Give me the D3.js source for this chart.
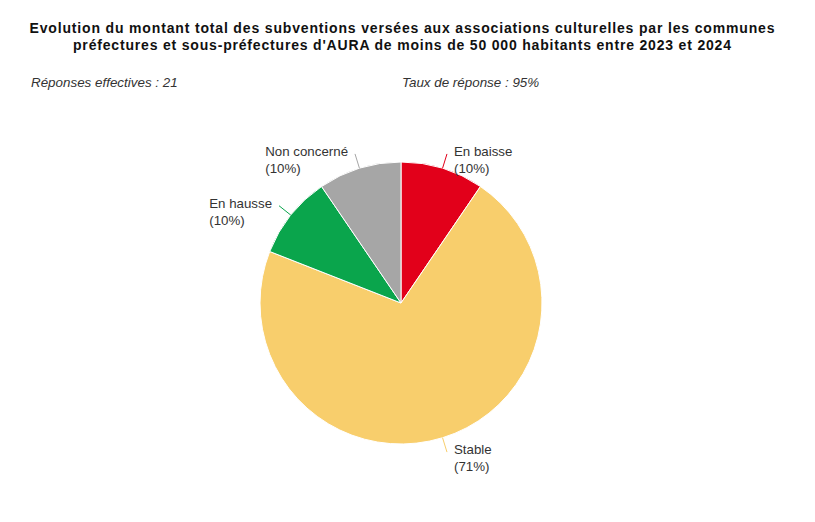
<!DOCTYPE html>
<html>
<head>
<meta charset="utf-8">
<script src="https://cdn.jsdelivr.net/npm/d3@7"></script>
<style>
  body { margin: 0; background: #fff; }
  text { font-family: "Liberation Sans", Arial, sans-serif; }
</style>
</head>
<body>
<div id="chart"></div>
<script>
chart_width = 815;
chart_height = 522;

// data
categories = ['En baisse', 'Stable', 'En hausse', 'Non concerné'];
counts = [2, 15, 2, 2];
percents = ['10%', '71%', '10%', '10%'];
slice_colors = ['#E2001A', '#F8CE6C', '#0AA54C', '#A6A6A6'];

title_lines = [
	'Evolution du montant total des subventions versées aux associations culturelles par les communes',
	"préfectures et sous-préfectures d'AURA de moins de 50 000 habitants entre 2023 et 2024"
];
title_widths = [745, 658];
subtitle_left = 'Réponses effectives : 21';
subtitle_right = 'Taux de réponse : 95%';

cx = 401;
cy = 303;
radius = 141;

svg = d3.select('#chart')
	.append('svg')
	.attr('width', chart_width)
	.attr('height', chart_height);

svg.selectAll('.title')
	.data(title_lines)
	.enter()
	.append('text')
	.attr('class', 'title')
	.attr('x', 402)
	.attr('y', (d, i) => 33 + i * 16.5)
	.attr('text-anchor', 'middle')
	.attr('font-size', 14)
	.attr('font-weight', 'bold')
	.attr('fill', '#111')
	.attr('textLength', (d, i) => title_widths[i])
	.attr('lengthAdjust', 'spacing')
	.text((d) => d);

svg.append('text')
	.attr('x', 31)
	.attr('y', 87)
	.attr('font-size', 13.4)
	.attr('font-style', 'italic')
	.attr('fill', '#333')
	.text(subtitle_left);

svg.append('text')
	.attr('x', 402)
	.attr('y', 87)
	.attr('font-size', 13.4)
	.attr('font-style', 'italic')
	.attr('fill', '#333')
	.text(subtitle_right);

pie = d3.pie().sort(null).value((d) => d);
arcs = pie(counts);

arc = d3.arc().innerRadius(0).outerRadius(radius);

g = svg.append('g').attr('transform', 'translate(' + cx + ',' + cy + ')');

g.selectAll('path')
	.data(arcs)
	.enter()
	.append('path')
	.attr('d', arc)
	.attr('fill', (d, i) => slice_colors[i])
	.attr('stroke', '#fff')
	.attr('stroke-width', 1);

function polar(angle, r) {
	return [Math.sin(angle) * r, -Math.cos(angle) * r];
}

arcs.forEach(function(d, i) {
	mid = (d.startAngle + d.endAngle) / 2;
	p1 = polar(mid, radius);
	p2 = polar(mid, radius + 15);
	g.append('line')
		.attr('x1', p1[0]).attr('y1', p1[1])
		.attr('x2', p2[0]).attr('y2', p2[1])
		.attr('stroke', slice_colors[i])
		.attr('stroke-width', 1);

	right = p2[0] >= 0;
	label = g.append('text')
		.attr('font-size', 13.3)
		.attr('fill', '#333');
	t1 = label.append('tspan').text(categories[i]);
	t2 = label.append('tspan').text('(' + percents[i] + ')');
	w = Math.max(t1.node().getComputedTextLength(), t2.node().getComputedTextLength());
	x = right ? p2[0] + 7 : p2[0] - 7 - w;
	y0 = p2[1] + 2;
	t1.attr('x', x).attr('y', y0);
	t2.attr('x', x).attr('y', y0 + 17);
});
</script>
</body>
</html>
